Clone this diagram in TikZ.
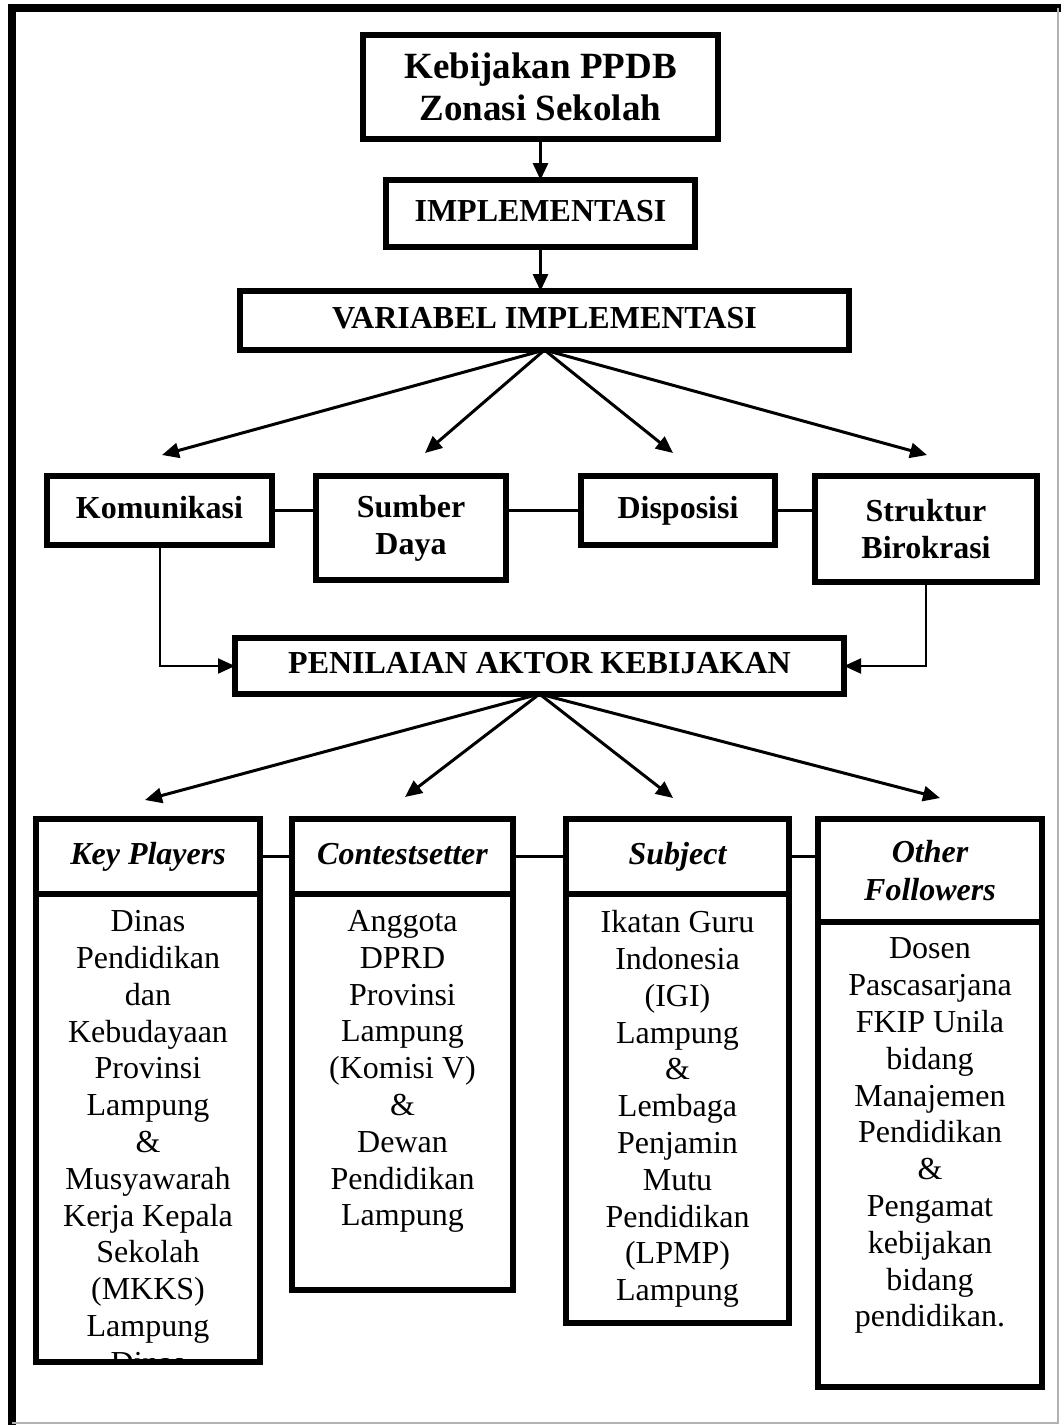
\documentclass[tikz,border=0pt]{standalone}
\usepackage{fontspec}
\setmainfont{Liberation Serif}
\usetikzlibrary{arrows.meta,positioning}

\begin{document}
\begin{tikzpicture}[x=0.5pt,y=-0.5pt,
  box/.style={draw,line width=3pt,inner sep=0pt,outer sep=0pt,align=center,
              font=\fontsize{16}{18.5}\selectfont\bfseries},
  oneline/.style={text height=11pt,text depth=3.5pt},
  head/.style={box,font=\fontsize{16}{19}\selectfont\bfseries\itshape,
               minimum height=37.5pt},
  body/.style={draw,line width=3pt,inner sep=0pt,outer sep=0pt,anchor=north},
  bodytext/.style={align=center,inner sep=0pt,font=\fontsize{16}{18.4}\selectfont},
  arr/.style={-{Triangle[length=8.5pt,width=7.5pt]},line width=1.5pt},
  link/.style={line width=1.2pt}]

\useasboundingbox (0,0) rectangle (1061,1425);

% page frame
\draw[line width=4pt] (1061,7.5) -- (11.5,7.5) -- (11.5,1425);
\draw[gray!60,line width=0.6pt] (1058,7.5) -- (1058,1423) -- (11.5,1423);

% upper chain
\node[box,minimum width=177.5pt,minimum height=52pt,
      font=\fontsize{18.5}{20.8}\selectfont\bfseries] (kebijakan) at (540.5,87)
      {Kebijakan PPDB\\Zonasi Sekolah};
\node[box,oneline,minimum width=154.5pt,minimum height=33.5pt] (impl) at (540.5,213.5) {IMPLEMENTASI};
\node[box,oneline,minimum width=304.5pt,minimum height=29.5pt] (varimpl) at (544.5,320.5) {VARIABEL IMPLEMENTASI};

\draw[arr] (kebijakan.south) -- (impl.north);
\draw[arr] (impl.south) -- (impl.south |- varimpl.north);

% implementation variables
\node[box,oneline,minimum width=112.5pt,minimum height=34.5pt] (kom) at (159.5,510.5) {Komunikasi};
\node[box,minimum width=95pt,minimum height=52pt] (sumber) at (411,528) {Sumber\\Daya};
\node[box,oneline,minimum width=97pt,minimum height=34.5pt] (dispo) at (678,510.5) {Disposisi};
\node[box,minimum width=111pt,minimum height=53pt] (struktur) at (926,529) {Struktur\\Birokrasi};

\coordinate (v1) at (162,455);
\coordinate (v2) at (425,453);
\coordinate (v3) at (673,453);
\coordinate (v4) at (927,455);
\foreach \t in {v1,v2,v3,v4}
  \draw[arr] (varimpl.south) -- (\t);

\draw[link] (kom.east) -- (sumber.west |- kom.east);
\draw[link] (sumber.east |- dispo.east) -- (dispo.west);
\draw[link] (dispo.east) -- (struktur.west |- dispo.east);

% actors
\node[box,oneline,minimum width=304.5pt,minimum height=28pt] (pen) at (539.5,666) {PENILAIAN AKTOR KEBIJAKAN};

\draw[arr,line width=1pt] (kom.south) |- (pen.west);
\draw[arr,line width=1pt] (struktur.south) |- (pen.east);

\coordinate (a1) at (145,800);
\coordinate (a2) at (405,797);
\coordinate (a3) at (673,798);
\coordinate (a4) at (940,798);
\foreach \t in {a1,a2,a3,a4}
  \draw[arr] (pen.south) -- (\t);

\node[head,oneline,minimum width=112pt] (kp) at (148,856.5) {Key Players};
\node[head,oneline,minimum width=110.5pt] (cs) at (402.5,856.5) {Contestsetter};
\node[head,oneline,minimum width=111.5pt] (subj) at (677.5,856.5) {Subject};
\node[head,minimum width=112pt,minimum height=51.25pt] (of) at (930,870.25) {Other\\Followers};

\draw[link] (kp.east) -- (cs.west);
\draw[link] (cs.east) -- (subj.west);
\draw[link] (subj.east) -- (of.west |- subj.east);

\node[body,minimum width=112pt,minimum height=234pt] (kpb) at (kp.south) {};
\node[body,minimum width=110.5pt,minimum height=198pt] (csb) at (cs.south) {};
\node[body,minimum width=111.5pt,minimum height=214.5pt] (subjb) at (subj.south) {};
\node[body,minimum width=112pt,minimum height=232.75pt] (ofb) at (of.south) {};

\begin{scope}
  \clip (kpb.north west) rectangle (kpb.south east);
  \node[bodytext,below=8pt of kp.south] (kptext) {Dinas\\Pendidikan\\dan\\Kebudayaan\\Provinsi\\
    Lampung\\\&\\Musyawarah\\Kerja Kepala\\Sekolah\\(MKKS)\\Lampung\\Dinas};
\end{scope}
\node[bodytext,below=8pt of cs.south] (cstext) {Anggota\\DPRD\\Provinsi\\Lampung\\
  (Komisi V)\\\&\\Dewan\\Pendidikan\\Lampung};
\node[bodytext,below=8pt of subj.south] (subjtext) {Ikatan Guru\\Indonesia\\(IGI)\\Lampung\\
  \&\\Lembaga\\Penjamin\\Mutu\\Pendidikan\\(LPMP)\\Lampung};
\node[bodytext,below=8pt of of.south] (oftext) {Dosen\\Pascasarjana\\FKIP Unila\\bidang\\
  Manajemen\\Pendidikan\\\&\\Pengamat\\kebijakan\\bidang\\pendidikan.};
\end{tikzpicture}
\end{document}
